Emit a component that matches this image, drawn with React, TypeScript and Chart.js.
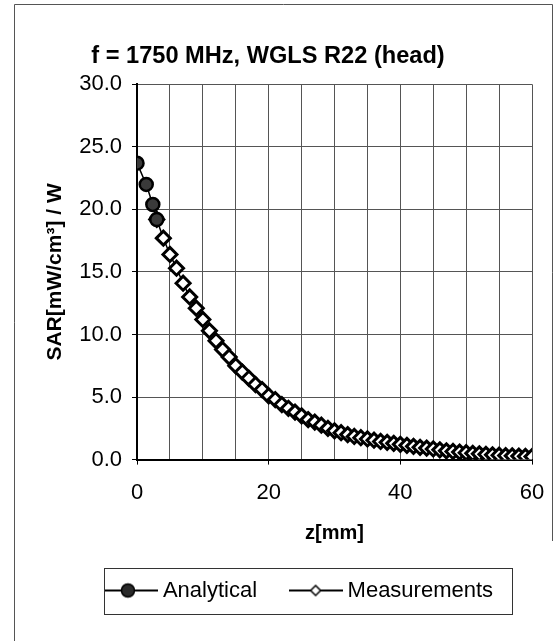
import React, { useEffect, useRef } from "react";
import { Chart, registerables } from "chart.js";

Chart.register(...registerables);

const titleText = "f = 1750 MHz, WGLS R22 (head)";
const xTitle = "z[mm]";
const yTitle = "SAR[mW/cm³] / W";
const seriesNames = ["Analytical", "Measurements"];

const analyticalZ = [0, 1.4, 2.4, 3];
const analyticalSAR = [23.7, 22.0, 20.4, 19.2];

const measuredZ = [
  3, 4, 5, 6, 7, 8, 9, 10, 11, 12, 13, 14, 15, 16, 17, 18, 19, 20, 21, 22, 23, 24, 25, 26, 27, 28, 29, 30,
  31, 32, 33, 34, 35, 36, 37, 38, 39, 40, 41, 42, 43, 44, 45, 46, 47, 48, 49, 50, 51, 52, 53, 54, 55, 56,
  57, 58, 59, 60,
];
const measuredSAR = [
  19.2, 17.7, 16.4, 15.3, 14.1, 13.0, 12.1, 11.2, 10.3, 9.5, 8.8, 8.2, 7.5, 7.0, 6.5, 6.0, 5.6, 5.1, 4.8,
  4.4, 4.1, 3.8, 3.5, 3.2, 3.0, 2.75, 2.5, 2.3, 2.15, 2.0, 1.85, 1.75, 1.65, 1.55, 1.45, 1.38, 1.3, 1.22,
  1.14, 1.06, 0.98, 0.92, 0.85, 0.78, 0.7, 0.65, 0.6, 0.55, 0.5, 0.46, 0.42, 0.38, 0.35, 0.32, 0.3, 0.28,
  0.26, 0.24,
];

const xTickLabels = [0, 20, 40, 60];
const xMin = 0;
const xMax = 60;
const xStep = 5;
const yMin = 0;
const yMax = 30;
const yStep = 5;

const FONT = "'Liberation Sans', Arial, Helvetica, sans-serif";

function makeLegendIcon(kind: "circle" | "diamond"): HTMLCanvasElement {
  const c = document.createElement("canvas");
  c.width = 54;
  c.height = 18;
  const g = c.getContext("2d")!;
  g.strokeStyle = "#000";
  g.lineWidth = 2;
  g.beginPath();
  g.moveTo(0, 9);
  g.lineTo(54, 9);
  g.stroke();
  if (kind === "circle") {
    g.beginPath();
    g.arc(24, 9, 6.5, 0, Math.PI * 2);
    g.fillStyle = "#2a2a2a";
    g.fill();
    g.lineWidth = 1.5;
    g.stroke();
  } else {
    g.beginPath();
    g.moveTo(27, 4);
    g.lineTo(32, 9);
    g.lineTo(27, 14);
    g.lineTo(22, 9);
    g.closePath();
    g.fillStyle = "#fff";
    g.fill();
    g.lineWidth = 1.5;
    g.stroke();
  }
  return c;
}

const framePlugin = {
  id: "frameAndLegendBox",
  afterLayout(chart: any) {
    const lg = chart.legend;
    if (lg) {
      lg.left += 28.5;
      lg.right += 28.5;
    }
    const tb = chart.titleBlock;
    if (tb) {
      tb.left -= 5;
      tb.right -= 5;
    }
  },
  beforeDraw(chart: any) {
    const ctx = chart.ctx;
    ctx.save();
    ctx.fillStyle = "#fff";
    ctx.fillRect(0, 0, chart.width, chart.height);
    ctx.strokeStyle = "#555";
    ctx.lineWidth = 1;
    ctx.beginPath();
    ctx.moveTo(14.5, chart.height);
    ctx.lineTo(14.5, 4.5);
    ctx.lineTo(552.5, 4.5);
    ctx.lineTo(552.5, chart.height - 100);
    ctx.stroke();
    ctx.restore();
  },
  afterDraw(chart: any) {
    const lg = chart.legend;
    if (!lg || !lg.legendHitBoxes || !lg.legendHitBoxes.length) return;
    const hb = lg.legendHitBoxes;
    const l = Math.min(...hb.map((h: any) => h.left));
    const r = Math.max(...hb.map((h: any) => h.left + h.width));
    const t = Math.min(...hb.map((h: any) => h.top));
    const b = Math.max(...hb.map((h: any) => h.top + h.height));
    const ctx = chart.ctx;
    ctx.save();
    ctx.strokeStyle = "#333";
    ctx.lineWidth = 1;
    const x0 = Math.round(l - 6);
    const y0 = Math.round(t - 12);
    ctx.strokeRect(x0 + 0.5, y0 + 0.5, Math.round(r + 19) - x0, Math.round(b + 12) - y0);
    ctx.restore();
  },
};

export default function App() {
  const ref = useRef<HTMLCanvasElement | null>(null);

  useEffect(() => {
    if (!ref.current) return;
    const icons = [makeLegendIcon("circle"), makeLegendIcon("diamond")];
    const chart = new Chart(ref.current, {
      type: "scatter",
      data: {
        datasets: [
          {
            label: seriesNames[0],
            data: analyticalZ.map((z, i) => ({ x: z, y: analyticalSAR[i] })),
            showLine: true,
            borderColor: "#000",
            borderWidth: 1.5,
            pointStyle: "circle",
            pointRadius: 6.5,
            pointBorderWidth: 2.5,
            pointBackgroundColor: "#3a3a3a",
            pointBorderColor: "#000",
          },
          {
            label: seriesNames[1],
            data: measuredZ.map((z, i) => ({ x: z, y: measuredSAR[i] })),
            showLine: true,
            borderColor: "#000",
            borderWidth: 1.5,
            pointStyle: "rectRot",
            pointRadius: 7,
            pointBorderWidth: 3,
            pointBackgroundColor: "#fff",
            pointBorderColor: "#000",
          },
        ],
      },
      options: {
        animation: false,
        responsive: true,
        maintainAspectRatio: false,
        layout: { padding: { top: 20, left: 14, right: 23, bottom: 29.5 } },
        plugins: {
          title: {
            display: true,
            text: titleText,
            color: "#000",
            font: { family: FONT, size: 23.6, weight: "bold" },
            padding: { top: 22, bottom: 14 },
          },
          legend: {
            position: "bottom",
            labels: {
              usePointStyle: true,
              pointStyleWidth: 42,
              padding: 37.5,
              color: "#000",
              font: { family: FONT, size: 22 },
              generateLabels: () =>
                seriesNames.map((name, i) => ({
                  text: name,
                  pointStyle: icons[i] as any,
                  fillStyle: "#fff",
                  strokeStyle: "#000",
                  lineWidth: 0,
                  hidden: false,
                  datasetIndex: i,
                  fontColor: "#000",
                })),
            },
          },
          tooltip: { enabled: false },
        },
        scales: {
          x: {
            type: "linear",
            min: xMin,
            max: xMax,
            afterFit: (s: any) => {
              s.paddingRight = 0;
            },
            ticks: {
              stepSize: xStep,
              autoSkip: false,
              maxRotation: 0,
              padding: 15,
              color: "#000",
              font: { family: FONT, size: 22 },
              callback: (v: any) => (xTickLabels.includes(Number(v)) ? String(v) : ""),
            },
            grid: {
              color: "#555",
              lineWidth: 1,
              tickLength: 5,
              tickColor: (c: any) => (c.tick && xTickLabels.includes(c.tick.value) ? "#000" : "rgba(0,0,0,0)"),
            },
            border: { color: "#000", width: 2 },
            title: {
              display: true,
              text: xTitle,
              color: "#000",
              font: { family: FONT, size: 20, weight: "bold", lineHeight: 0.9 },
              padding: { top: 3, bottom: 0 },
            },
          },
          y: {
            type: "linear",
            min: yMin,
            max: yMax,
            ticks: {
              stepSize: yStep,
              padding: 10,
              color: "#000",
              font: { family: FONT, size: 22 },
              callback: (v: any) => Number(v).toFixed(1),
            },
            grid: { color: "#555", lineWidth: 1, tickLength: 5, tickColor: "#000" },
            border: { color: "#000", width: 2 },
            title: {
              display: true,
              text: yTitle,
              color: "#000",
              font: { family: FONT, size: 21, weight: "bold" },
              padding: { top: 29, bottom: 1 },
            },
          },
        },
      },
      plugins: [framePlugin],
    });
    return () => chart.destroy();
  }, []);

  return (
    <div style={{ position: "absolute", left: 0, top: 0, width: 555, height: 641 }}>
      <canvas ref={ref} />
    </div>
  );
}
